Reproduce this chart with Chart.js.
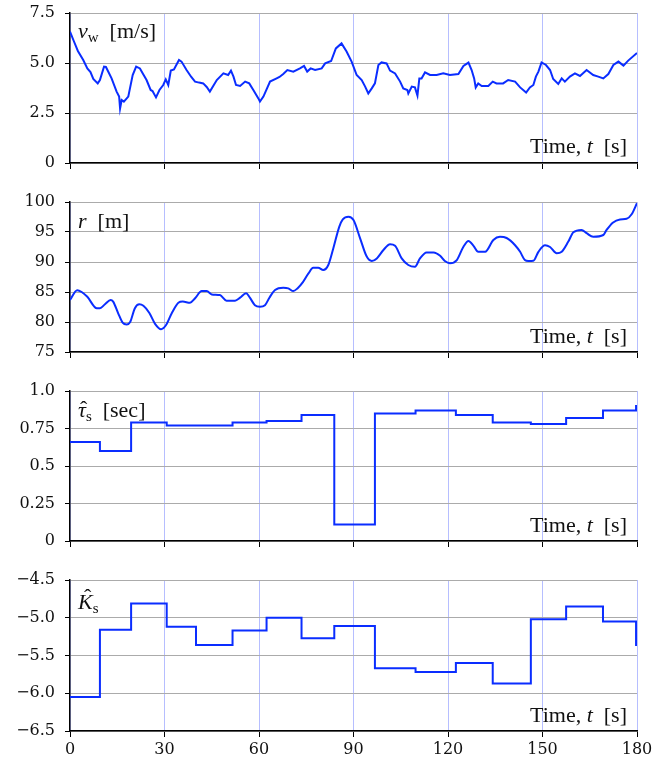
<!DOCTYPE html>
<html>
<head>
<meta charset="utf-8">
<script src="https://cdn.jsdelivr.net/npm/chart.js@4/dist/chart.umd.min.js"></script>
<style>
  body { margin: 0; background: #fff; }
  #wrap { position: relative; width: 670px; height: 763px; }
  .panel { position: absolute; left: 0; }
  .lbl { position: absolute; font-family: "Liberation Serif", serif; font-size: 22px; color: #111; white-space: nowrap; line-height: 1; }
  .lbl i { font-style: italic; }
  .lbl sub { font-size: 15px; vertical-align: -4px; line-height: 0; }
  .hat { position: relative; display: inline-block; }
  .hat b { position: absolute; font-weight: normal; font-style: normal; }
</style>
</head>
<body>
<div id="wrap">
  <canvas id="c1" class="panel" width="670" height="172" style="top:1px"></canvas>
  <canvas id="c2" class="panel" width="670" height="172" style="top:190px"></canvas>
  <canvas id="c3" class="panel" width="670" height="172" style="top:379px"></canvas>
  <canvas id="c4" class="panel" width="670" height="194" style="top:568px"></canvas>

  <div class="lbl" style="left:78px;top:20px"><i>v</i><sub>w</sub>&nbsp;&nbsp;[m/s]</div>
  <div class="lbl" style="left:78px;top:210px"><i>r</i>&nbsp;&nbsp;[m]</div>
  <div class="lbl" style="left:78px;top:399px"><span class="hat"><i>τ</i><b style="left:2px;top:-1px">ˆ</b></span><sub>s</sub>&nbsp;&nbsp;[sec]</div>
  <div class="lbl" style="left:78px;top:591px"><span class="hat"><i>K</i><b style="left:6px;top:-5px">ˆ</b></span><sub>s</sub></div>

  <div class="lbl" style="right:43px;top:135px">Time, <i>t</i>&nbsp;&nbsp;[s]</div>
  <div class="lbl" style="right:43px;top:325px">Time, <i>t</i>&nbsp;&nbsp;[s]</div>
  <div class="lbl" style="right:43px;top:514px">Time, <i>t</i>&nbsp;&nbsp;[s]</div>
  <div class="lbl" style="right:43px;top:704px">Time, <i>t</i>&nbsp;&nbsp;[s]</div>
</div>
<script>
// wind speed v_w [m/s]
const speedTime = [0,1.2,2.5,4.2,5.5,6.5,7.4,8.8,9.5,10.8,11.4,12.2,13.2,14.8,15.6,15.9,16.4,17.1,18.5,19.9,
  21,22.2,23.2,24.3,25.6,26.2,27.3,28.4,29.6,30.4,31.2,32,33,34.6,35.4,37,38.5,39.7,41,42.3,
  43.4,44.4,46.6,48.7,50.2,51.1,51.9,52.7,54,55.6,56.9,58.2,59.8,60.3,61.4,63.5,65.6,66.5,67.7,69,
  70.9,73,74.3,75.3,76.4,77.8,79.9,81,82.9,84.4,86.2,87.8,89.4,91,92.6,93.7,94.7,95.8,96.8,97.9,
  98.9,100.5,101.6,103.2,104.8,105.8,107.1,107.4,108.5,109.5,110.3,110.9,111.6,112.7,114.3,116.4,118.5,120.6,123.3,124.9,
  126.5,127.5,128.3,128.8,129.6,130.7,132.8,134.2,135.4,137.5,139.1,141.3,142.9,144.8,146,147.1,147.9,148.7,149.7,151.1,
  152.4,153.4,155,156.1,157.1,158.7,160.3,161.9,164,166.1,167.7,169.3,170.9,172.5,174.1,175.7,177.2,180]
const windSpeed = [6.57,6.1,5.6,5.15,4.73,4.55,4.2,3.98,4.15,4.82,4.8,4.55,4.23,3.57,3.32,2.73,3.15,3.07,3.32,4.4,
  4.82,4.73,4.45,4.15,3.65,3.6,3.28,3.65,3.9,4.18,3.9,4.62,4.68,5.15,5.07,4.65,4.3,4.07,4.02,3.98,
  3.8,3.57,4.15,4.48,4.4,4.62,4.32,3.9,3.85,4.07,3.98,3.65,3.23,3.07,3.32,4.07,4.23,4.3,4.45,4.65,
  4.57,4.73,4.85,4.57,4.73,4.65,4.73,4.98,5.1,5.73,5.98,5.57,5.07,4.4,4.15,3.82,3.48,3.73,3.98,4.9,
  5.03,4.98,4.62,4.48,4.07,3.73,3.65,3.48,3.82,3.78,3.37,4.23,4.23,4.53,4.4,4.4,4.48,4.4,4.45,4.85,
  5.02,4.65,4.23,3.78,3.98,3.85,3.85,4.07,3.98,3.98,4.15,4.07,3.78,3.52,3.78,3.9,4.32,4.57,5.03,4.9,
  4.65,4.2,3.95,4.23,4.07,4.32,4.48,4.35,4.65,4.4,4.32,4.23,4.45,4.9,5.07,4.87,5.12,5.5]

// radius r [m]
const radiusTime = [0,2.3,3.7,5.5,8.5,9.5,11.1,12.9,13.7,15.3,16.7,18,19.1,20.6,22,23.3,25.2,27,28.9,30.5,
  32.3,34.4,35.8,38.1,39.7,41.8,43.4,45,47.6,49.7,52.4,54,55.9,57.1,58.7,60.3,61.9,63.3,65.1,67.7,
  69.3,70.9,72.2,74,75.7,77.2,78.8,80.4,82,83.6,85.5,86.6,88.4,90,92.1,94.2,95.8,97.4,99.5,101.6,
  103.2,105.3,107.4,109.5,111.1,113.2,115.4,117.5,119,120.6,122.8,124.9,126.5,128.1,129.6,131.8,134.4,136.5,138.6,141.3,
  142.9,144.4,145.5,147.1,148.7,150.8,152.4,154.5,156.1,158.2,159.8,162.4,164,166.1,169.3,170.3,172.3,174.6,176.7,178.3,180]
const radius = [83.67,85.3,85.0,84.2,82.3,82.3,82.95,83.67,83.4,81.45,79.9,79.6,80.0,82.3,82.95,82.7,81.5,79.7,78.8,79.5,
  81.45,83.2,83.4,83.2,83.95,85.15,85.15,84.6,84.5,83.55,83.55,84.05,84.8,84.05,82.8,82.55,82.8,84.05,85.33,85.7,
  85.6,85.15,85.6,86.7,88.1,89.05,89.05,88.67,89.5,92.3,95.9,97.1,97.55,97.0,93.95,90.9,90.17,90.6,92.0,92.95,
  92.7,90.6,89.5,89.2,90.6,91.6,91.6,91.05,90.17,89.8,90.33,92.55,93.5,92.7,91.7,91.7,93.67,94.2,94.0,92.8,
  91.7,90.33,90.17,90.2,91.7,92.8,92.5,91.45,91.7,93.4,94.95,95.33,94.8,94.2,94.5,95.3,96.55,97.1,97.2,97.95,99.8]

// estimator update times and held estimates
const stepTime = [0,9.5,19.4,30.7,40,51.6,62.4,73.5,83.9,96.8,109.7,122.5,134.2,146.3,157.5,169.2,179.7,180]
const tauHat = [0.66,0.60,0.79,0.77,0.77,0.79,0.80,0.84,0.11,0.85,0.87,0.84,0.79,0.78,0.82,0.87,0.90,0.90]
const kHat = [-6.05,-5.16,-4.81,-5.12,-5.36,-5.17,-5.00,-5.27,-5.11,-5.67,-5.72,-5.60,-5.87,-5.02,-4.85,-5.05,-5.36,-5.36]

const timeTicks = ['0','30','60','90','120','150','180']
const speedTicks = ['0','2.5','5.0','7.5']
const radiusTicks = ['75','80','85','90','95','100']
const tauTicks = ['0','0.25','0.5','0.75','1.0']
const kTicks = ['\u22126.5','\u22126.0','\u22125.5','\u22125.0','\u22124.5']

const BLUE = '#0a2dff'
const FONT = {family:'DejaVu Serif', size:16}

function zip(xs, ys){
  return xs.map((x,i) => ({x, y: ys[i]}))
}

function makePanel(id, data, y, showX, extra){
  const ctx = document.getElementById(id)
  new Chart(ctx, {
    type: 'line',
    data: {
      datasets: [Object.assign({
        data,
        borderColor: BLUE,
        borderWidth: 2,
        pointRadius: 0,
        fill: false
      }, extra)]
    },
    options: {
      responsive: false,
      animation: false,
      devicePixelRatio: 1,
      layout: {padding: {top: 12, right: 33, left: 0, bottom: 0}},
      plugins: {legend: {display: false}, tooltip: {enabled: false}},
      scales: {
        x: {
          type: 'linear', min: 0, max: 180,
          grid: {color: '#b6beff', lineWidth: 1, tickColor: '#000', tickLength: 6},
          border: {color: '#000', width: 1.5},
          ticks: {display: showX, stepSize: 30, color: '#111', font: FONT, padding: 3,
                  maxRotation: 0, callback: (v, i) => timeTicks[i]},
          afterFit: s => {
            s.height = showX ? 31 : 10
            s.paddingLeft = 0; s.paddingRight = 0
          }
        },
        y: {
          min: y.min, max: y.max,
          grid: {color: '#ababab', lineWidth: 1, tickColor: '#000', tickLength: 5},
          border: {color: '#000', width: 1.5},
          ticks: {stepSize: y.step, color: '#111', font: FONT, padding: 10,
                  callback: (v, i) => y.labels[i]},
          afterFit: s => {
            s.width = 70
            s.paddingTop = 0; s.paddingBottom = 0
          }
        }
      }
    }
  })
}

makePanel('c1', zip(speedTime, windSpeed), {min:0, max:7.5, step:2.5, labels:speedTicks}, false, {})
makePanel('c2', zip(radiusTime, radius), {min:75, max:100, step:5, labels:radiusTicks}, false, {cubicInterpolationMode:'monotone'})
makePanel('c3', zip(stepTime, tauHat), {min:0, max:1, step:0.25, labels:tauTicks}, false, {stepped:true})
makePanel('c4', zip(stepTime, kHat), {min:-6.5, max:-4.5, step:0.5, labels:kTicks}, true, {stepped:true})
</script>
</body>
</html>
